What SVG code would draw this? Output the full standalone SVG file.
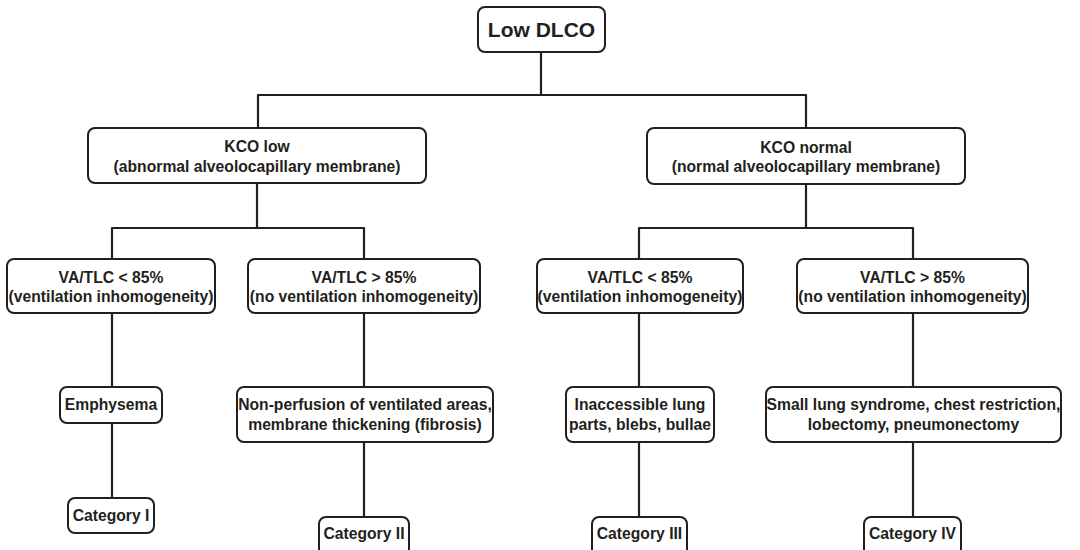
<svg xmlns="http://www.w3.org/2000/svg" width="1080" height="550" viewBox="0 0 1080 550">
<style>
.box{fill:#fff;stroke:#231f20;stroke-width:2}
.ln{fill:none;stroke:#231f20;stroke-width:2.2;stroke-linejoin:round}
text{font-family:"Liberation Sans",Arial,sans-serif;font-weight:bold;font-size:15.7px;fill:#231f20;text-anchor:middle}
.big{font-size:21px}
</style>
<rect width="1080" height="550" fill="#fff"/>
<g id="connectors">
<path class="ln" d="M541,52 V95"/>
<path class="ln" d="M258,128 V95 H806 V128"/>
<path class="ln" d="M257,183 V228"/>
<path class="ln" d="M112,259 V228 H364 V259"/>
<path class="ln" d="M806,184 V228"/>
<path class="ln" d="M639,259 V228 H913 V259"/>
<path class="ln" d="M112,313 V387"/>
<path class="ln" d="M364,313 V387"/>
<path class="ln" d="M639,313 V387"/>
<path class="ln" d="M913,313 V387"/>
<path class="ln" d="M112,423 V498"/>
<path class="ln" d="M364,442 V517"/>
<path class="ln" d="M639,442 V517"/>
<path class="ln" d="M913,442 V517"/>
</g>
<g id="n_low_dlco"><rect class="box" x="478" y="7" width="127" height="45" rx="7"/><text class="big" x="541.5" y="37">Low DLCO</text></g>
<g id="n_kco_low"><rect class="box" x="88" y="128" width="338" height="55" rx="7"/><text x="257" y="152">KCO low</text><text x="257" y="172">(abnormal alveolocapillary membrane)</text></g>
<g id="n_kco_normal"><rect class="box" x="647" y="128" width="318" height="56" rx="7"/><text x="806" y="153">KCO normal</text><text x="806" y="172">(normal alveolocapillary membrane)</text></g>
<g id="n_va1"><rect class="box" x="7" y="259" width="208" height="54" rx="7"/><text x="111" y="283">VA/TLC &lt; 85%</text><text x="111" y="302">(ventilation inhomogeneity)</text></g>
<g id="n_va2"><rect class="box" x="248" y="259" width="232" height="54" rx="7"/><text x="364" y="283">VA/TLC &gt; 85%</text><text x="364" y="302">(no ventilation inhomogeneity)</text></g>
<g id="n_va3"><rect class="box" x="537" y="259" width="206" height="54" rx="7"/><text x="640" y="283">VA/TLC &lt; 85%</text><text x="640" y="302">(ventilation inhomogeneity)</text></g>
<g id="n_va4"><rect class="box" x="797" y="259" width="231" height="54" rx="7"/><text x="912.5" y="283">VA/TLC &gt; 85%</text><text x="912.5" y="302">(no ventilation inhomogeneity)</text></g>
<g id="n_emph"><rect class="box" x="60" y="387" width="102" height="36" rx="7"/><text x="111" y="410">Emphysema</text></g>
<g id="n_nonperf"><rect class="box" x="237" y="387" width="256" height="55" rx="7"/><text x="365" y="410">Non-perfusion of ventilated areas,</text><text x="365" y="430">membrane thickening (fibrosis)</text></g>
<g id="n_inacc"><rect class="box" x="566" y="387" width="148" height="55" rx="7"/><text x="640" y="410">Inaccessible lung</text><text x="640" y="430">parts, blebs, bullae</text></g>
<g id="n_small"><rect class="box" x="766" y="387" width="295" height="55" rx="7"/><text x="913.5" y="410">Small lung syndrome, chest restriction,</text><text x="913.5" y="430">lobectomy, pneumonectomy</text></g>
<g id="n_cat1"><rect class="box" x="68" y="498" width="86" height="35" rx="7"/><text x="111" y="521">Category I</text></g>
<g id="n_cat2"><rect class="box" x="319" y="517" width="90" height="40" rx="7"/><text x="364" y="539">Category II</text></g>
<g id="n_cat3"><rect class="box" x="592" y="517" width="95" height="40" rx="7"/><text x="639.5" y="539">Category III</text></g>
<g id="n_cat4"><rect class="box" x="864" y="517" width="97" height="40" rx="7"/><text x="912.5" y="539">Category IV</text></g>
</svg>
